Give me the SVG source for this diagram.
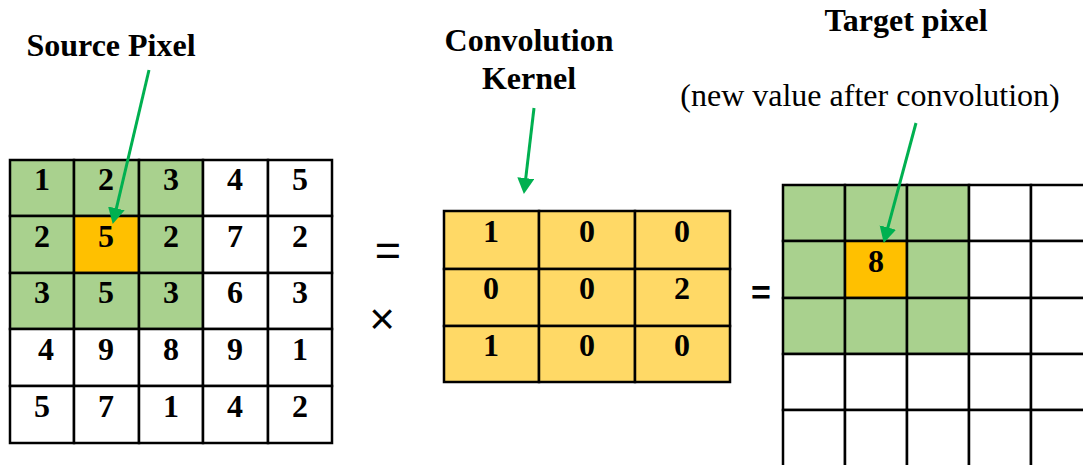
<svg xmlns="http://www.w3.org/2000/svg" width="1083" height="465" viewBox="0 0 1083 465">
<style>
.cell{stroke:#000;stroke-width:2.5}
.w{fill:#fff}
.g{fill:#A9D18E}
.o{fill:#FFC000}
.k{fill:#FFD966}
.num{font-family:"Liberation Serif","Times New Roman",serif;font-weight:bold;font-size:32px;fill:#000;text-anchor:middle}
.lbl{font-family:"Liberation Serif","Times New Roman",serif;font-weight:bold;font-size:32px;fill:#000;text-anchor:middle}
.sub{font-family:"Liberation Serif","Times New Roman",serif;font-size:32px;fill:#000;text-anchor:middle}
.op{font-family:"Liberation Sans",Arial,sans-serif;fill:#000;text-anchor:middle}
.arrow{stroke:#00B050;stroke-width:3;fill:none;marker-end:url(#ah)}
</style>
<defs>
<marker id="ah" markerUnits="userSpaceOnUse" markerWidth="17" markerHeight="18" refX="3" refY="8.5" orient="auto">
<path d="M0,0 L16,8.5 L0,17 z" fill="#00B050"/>
</marker>
</defs>
<rect width="1083" height="465" fill="#fff"/>

<g id="source-grid">
<rect class="cell g" x="10" y="160" width="64" height="56"/>
<rect class="cell g" x="74" y="160" width="65" height="56"/>
<rect class="cell g" x="139" y="160" width="64" height="56"/>
<rect class="cell w" x="203" y="160" width="65" height="56"/>
<rect class="cell w" x="268" y="160" width="64" height="56"/>
<rect class="cell g" x="10" y="216" width="64" height="57"/>
<rect class="cell o" x="74" y="216" width="65" height="57"/>
<rect class="cell g" x="139" y="216" width="64" height="57"/>
<rect class="cell w" x="203" y="216" width="65" height="57"/>
<rect class="cell w" x="268" y="216" width="64" height="57"/>
<rect class="cell g" x="10" y="273" width="64" height="56"/>
<rect class="cell g" x="74" y="273" width="65" height="56"/>
<rect class="cell g" x="139" y="273" width="64" height="56"/>
<rect class="cell w" x="203" y="273" width="65" height="56"/>
<rect class="cell w" x="268" y="273" width="64" height="56"/>
<rect class="cell w" x="10" y="329" width="64" height="57"/>
<rect class="cell w" x="74" y="329" width="65" height="57"/>
<rect class="cell w" x="139" y="329" width="64" height="57"/>
<rect class="cell w" x="203" y="329" width="65" height="57"/>
<rect class="cell w" x="268" y="329" width="64" height="57"/>
<rect class="cell w" x="10" y="386" width="64" height="57"/>
<rect class="cell w" x="74" y="386" width="65" height="57"/>
<rect class="cell w" x="139" y="386" width="64" height="57"/>
<rect class="cell w" x="203" y="386" width="65" height="57"/>
<rect class="cell w" x="268" y="386" width="64" height="57"/>
<text class="num" x="42" y="190">1</text><text class="num" x="106" y="190">2</text><text class="num" x="171" y="190">3</text><text class="num" x="235" y="190">4</text><text class="num" x="300" y="190">5</text>
<text class="num" x="42" y="247">2</text><text class="num" x="106" y="247">5</text><text class="num" x="171" y="247">2</text><text class="num" x="235" y="247">7</text><text class="num" x="300" y="247">2</text>
<text class="num" x="42" y="303">3</text><text class="num" x="106" y="303">5</text><text class="num" x="171" y="303">3</text><text class="num" x="235" y="303">6</text><text class="num" x="300" y="303">3</text>
<text class="num" x="46" y="360">4</text><text class="num" x="106" y="360">9</text><text class="num" x="171" y="360">8</text><text class="num" x="235" y="360">9</text><text class="num" x="300" y="360">1</text>
<text class="num" x="42" y="417">5</text><text class="num" x="106" y="417">7</text><text class="num" x="171" y="417">1</text><text class="num" x="235" y="417">4</text><text class="num" x="300" y="417">2</text>
</g>

<g id="kernel">
<rect class="cell k" x="444" y="211" width="95" height="58"/>
<rect class="cell k" x="539" y="211" width="96" height="58"/>
<rect class="cell k" x="635" y="211" width="95" height="58"/>
<rect class="cell k" x="444" y="269" width="95" height="57"/>
<rect class="cell k" x="539" y="269" width="96" height="57"/>
<rect class="cell k" x="635" y="269" width="95" height="57"/>
<rect class="cell k" x="444" y="326" width="95" height="56"/>
<rect class="cell k" x="539" y="326" width="96" height="56"/>
<rect class="cell k" x="635" y="326" width="95" height="56"/>
<text class="num" x="491" y="242">1</text><text class="num" x="587" y="242">0</text><text class="num" x="682" y="242">0</text>
<text class="num" x="491" y="299">0</text><text class="num" x="587" y="299">0</text><text class="num" x="682" y="299">2</text>
<text class="num" x="491" y="356">1</text><text class="num" x="587" y="356">0</text><text class="num" x="682" y="356">0</text>
</g>

<g id="target-grid">
<rect class="cell g" x="783" y="185" width="62" height="56"/>
<rect class="cell g" x="845" y="185" width="62" height="56"/>
<rect class="cell g" x="907" y="185" width="62" height="56"/>
<rect class="cell w" x="969" y="185" width="62" height="56"/>
<rect class="cell w" x="1031" y="185" width="62" height="56"/>
<rect class="cell g" x="783" y="241" width="62" height="57"/>
<rect class="cell o" x="845" y="241" width="62" height="57"/>
<rect class="cell g" x="907" y="241" width="62" height="57"/>
<rect class="cell w" x="969" y="241" width="62" height="57"/>
<rect class="cell w" x="1031" y="241" width="62" height="57"/>
<rect class="cell g" x="783" y="298" width="62" height="56"/>
<rect class="cell g" x="845" y="298" width="62" height="56"/>
<rect class="cell g" x="907" y="298" width="62" height="56"/>
<rect class="cell w" x="969" y="298" width="62" height="56"/>
<rect class="cell w" x="1031" y="298" width="62" height="56"/>
<rect class="cell w" x="783" y="354" width="62" height="56"/>
<rect class="cell w" x="845" y="354" width="62" height="56"/>
<rect class="cell w" x="907" y="354" width="62" height="56"/>
<rect class="cell w" x="969" y="354" width="62" height="56"/>
<rect class="cell w" x="1031" y="354" width="62" height="56"/>
<rect class="cell w" x="783" y="410" width="62" height="60"/>
<rect class="cell w" x="845" y="410" width="62" height="60"/>
<rect class="cell w" x="907" y="410" width="62" height="60"/>
<rect class="cell w" x="969" y="410" width="62" height="60"/>
<rect class="cell w" x="1031" y="410" width="62" height="60"/>
<text class="num" x="876" y="272">8</text>
</g>

<g id="operators">
<text class="op" x="388" y="265" font-size="45">=</text>
<text class="op" x="382" y="334" font-size="44">×</text>
<text class="op" x="761" y="304" font-size="34" font-weight="bold">=</text>
</g>

<g id="labels">
<text class="lbl" x="111" y="56">Source Pixel</text>
<text class="lbl" x="529" y="51">Convolution</text>
<text class="lbl" x="529" y="89">Kernel</text>
<text class="lbl" x="906" y="31">Target pixel</text>
<text class="sub" x="870" y="106">(new value after convolution)</text>
</g>

<g id="connectors">
<line class="arrow" x1="149" y1="70" x2="115.7" y2="211.3"/>
<line class="arrow" x1="534" y1="108" x2="525.4" y2="181.1"/>
<line class="arrow" x1="916" y1="123" x2="887.1" y2="230.4"/>
</g>
</svg>
